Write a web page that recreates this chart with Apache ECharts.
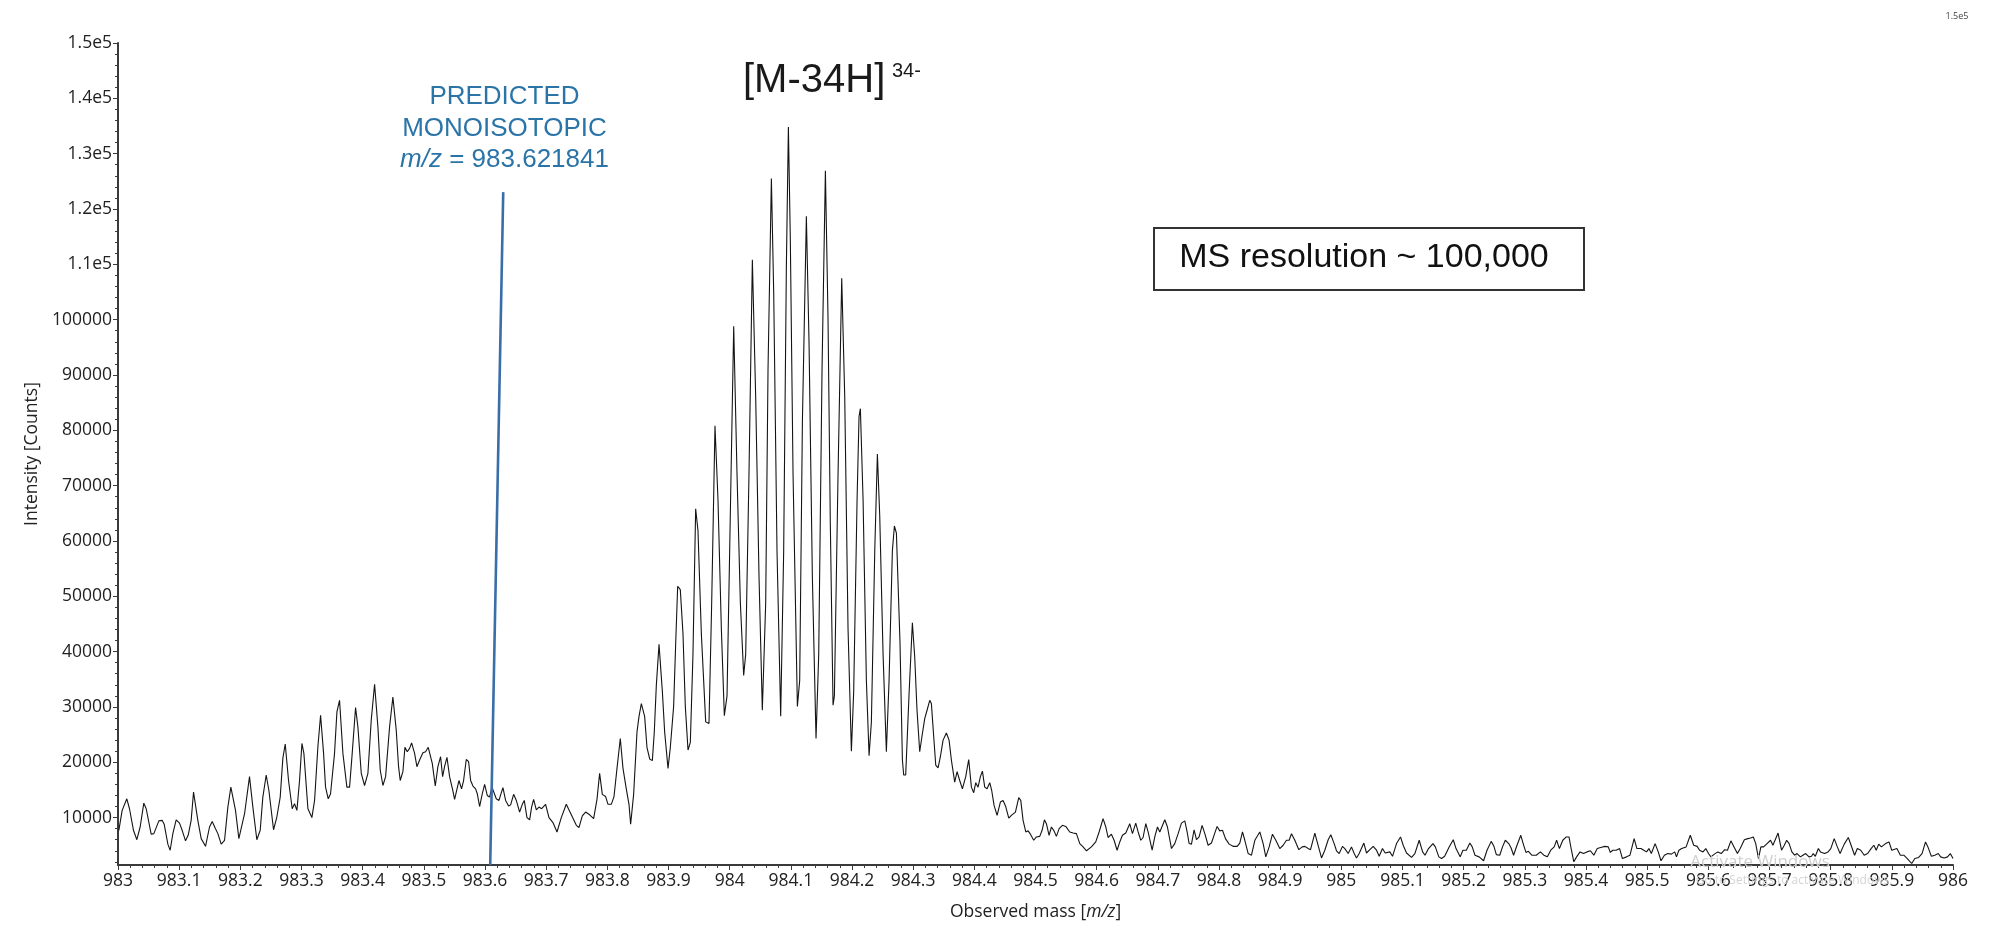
<!DOCTYPE html>
<html>
<head>
<meta charset="utf-8">
<title>[M-34H] 34- isotope envelope</title>
<script src="https://cdn.jsdelivr.net/npm/echarts@6/dist/echarts.min.js"></script>
<style>
  html, body { margin: 0; padding: 0; background: #fff; }
  #chart { width: 2000px; height: 942px; }
</style>
</head>
<body>
<div id="chart"></div>
<script>
// [m/z, intensity in counts] from left to right
const spectrumLow = [
  [983.0014,7700],[983.0068,11300],[983.0144,13400],[983.0188,11600],[983.0253,7700],[983.0308,6000],
  [983.0362,8300],[983.0422,12600],[983.0461,11600],[983.0542,7000],[983.0586,7100],[983.0668,9400],
  [983.0722,9500],[983.0755,8800],[983.0815,5200],[983.0853,4100],[983.0897,7100],[983.0951,9600],
  [983.1006,9000],[983.1049,7700],[983.1104,5800],[983.1147,6800],[983.1196,9500],[983.1235,14600],
  [983.1267,14800],[983.1305,9500],[983.1360,6200],[983.1431,4800],[983.1496,8300],[983.1540,9300],
  [983.1594,8000],[983.1633,7100],[983.1687,5200],[983.1742,5900],[983.1796,11900],[983.1845,15500],
  [983.1921,11300],[983.1976,6200],[983.2003,6200],[983.2069,10700],[983.2150,17400],[983.2205,11900],
  [983.2270,6000],[983.2325,7700],[983.2368,13700],[983.2423,17700],[983.2467,14900],[983.2543,7800],
  [983.2597,10100],[983.2652,13700],[983.2695,20700],[983.2734,23300],[983.2788,16700],[983.2848,11600],
  [983.2886,12500],[983.2925,11300],[983.2968,16700],[983.3007,23400],[983.3039,21600],[983.3105,11600],
  [983.3170,10000],[983.3214,13100],[983.3268,22800],[983.3312,28500],[983.3361,21600],[983.3393,15500],
  [983.3437,13400],[983.3475,14300],[983.3502,14300],[983.3540,21600],[983.3579,29100],[983.3622,31200],
  [983.3677,21600],[983.3742,15500],[983.3786,15500],[983.3829,21600],[983.3884,29900],[983.3922,26400],
  [983.3977,18000],[983.4031,15800],[983.4086,18000],[983.4140,27600],[983.4195,34100],[983.4249,26400],
  [983.4287,18600],[983.4331,15800],[983.4375,17400],[983.4440,26400],[983.4494,31800],[983.4549,25800],
  [983.4587,19200],[983.4614,16700],[983.4658,18300],[983.4691,22700],[983.4729,21900],[983.4767,22500],
  [983.4800,23500],[983.4849,21600],[983.4887,19200],[983.4931,20400],[983.4985,21700],[983.5029,21900],
  [983.5072,22700],[983.5138,19800],[983.5187,15700],[983.5230,19200],[983.5274,21000],[983.5307,17400],
  [983.5339,19200],[983.5378,20900],[983.5421,17400],[983.5476,14800],[983.5503,13300],[983.5541,15100],
  [983.5574,16700],[983.5617,15200],[983.5650,16700],[983.5694,20500],[983.5732,20100],[983.5765,16700],
  [983.5803,15700],[983.5846,15200],[983.5874,14300],[983.5912,12000],[983.5955,14300],[983.5994,16000],
  [983.6037,14000],[983.6075,13700],[983.6114,15500],[983.6141,15700],[983.6184,13400],[983.6228,13100],
  [983.6293,15400],[983.6337,13100],[983.6386,12100],[983.6419,12300],[983.6468,14200],[983.6512,13100],
  [983.6566,11000]
];

const spectrumCluster = [
  [983.6610,12400],[983.6642,13100],[983.6686,10000],[983.6730,9600],[983.6762,11900],[983.6795,13300],
  [983.6839,11400],[983.6882,11900],[983.6926,11600],[983.6991,12400],[983.7046,10000],[983.7111,9100],
  [983.7177,7400],[983.7247,10000],[983.7329,12400],[983.7411,10500],[983.7493,8600],[983.7536,8200],
  [983.7591,10300],[983.7645,11000],[983.7711,10500],[983.7776,9800],[983.7831,13300],[983.7874,18000],
  [983.7918,14200],[983.7972,13800],[983.8011,12400],[983.8065,12400],[983.8109,13800],[983.8158,18900],
  [983.8212,24300],[983.8256,18900],[983.8310,15200],[983.8354,12400],[983.8381,8800],[983.8430,14200],
  [983.8485,25500],[983.8518,28300],[983.8556,30600],[983.8610,28300],[983.8648,22700],[983.8692,20600],
  [983.8736,20300],[983.8768,25500],[983.8801,33900],[983.8845,41300],[983.8899,32900],[983.8937,25500],
  [983.8992,18900],[983.9030,22700],[983.9084,30100],[983.9117,41300],[983.9150,51800],[983.9193,51200],
  [983.9237,43200],[983.9275,30100],[983.9319,22200],[983.9357,23600],[983.9400,39500],[983.9444,65800],
  [983.9482,61900],[983.9537,43200],[983.9608,27300],[983.9662,27000],[983.9706,48800],[983.9760,80800],
  [983.9809,67500],[983.9864,44200],[983.9913,28400],[983.9957,32000],[984.0000,58200],[984.0066,98800],
  [984.0120,72200],[984.0175,48800],[984.0229,35700],[984.0262,39500],[984.0316,72200],[984.0371,110800],
  [984.0425,86200],[984.0480,53500],[984.0534,29400],[984.0589,48800],[984.0627,90900],[984.0682,125500],
  [984.0720,104900],[984.0774,58200],[984.0834,28300],[984.0883,58200],[984.0927,109600],[984.0960,134800],
  [984.0992,114300],[984.1036,72200],[984.1107,30100],[984.1145,34800],[984.1189,81500],[984.1254,118700],
  [984.1298,95600],[984.1352,53500],[984.1412,24300],[984.1456,39500],[984.1510,90900],[984.1565,126900],
  [984.1608,100200],[984.1646,62800],[984.1690,30300],[984.1712,32000],[984.1772,72200],[984.1832,107500],
  [984.1881,86200],[984.1935,44200],[984.1990,22000],[984.2028,32900],[984.2083,67500],[984.2115,82500],
  [984.2137,83900],[984.2181,67500],[984.2235,34800],[984.2279,21200],[984.2317,27300],[984.2372,58200],
  [984.2415,75700],[984.2453,64700],[984.2508,39500],[984.2562,21900],[984.2606,34800],[984.2660,58200],
  [984.2693,62700],[984.2726,61400]
];

const spectrumTail = [
  [984.2785,41500],[984.2824,20400],[984.2845,17700],[984.2878,17700],[984.2933,32400],[984.2987,45200],
  [984.3025,39100],[984.3063,29400],[984.3107,21900],[984.3151,25200],[984.3189,27900],[984.3227,29400],
  [984.3271,31200],[984.3298,30600],[984.3336,24600],[984.3369,19500],[984.3407,19000],[984.3445,21000],
  [984.3489,24000],[984.3543,25300],[984.3587,24000],[984.3625,20400],[984.3679,16400],[984.3718,18300],
  [984.3761,16700],[984.3805,15200],[984.3859,17400],[984.3908,20500],[984.3952,15500],[984.3990,14500],
  [984.4023,16300],[984.4061,15500],[984.4099,17400],[984.4132,18400],[984.4170,15500],[984.4208,15200],
  [984.4252,16300],[984.4284,14900],[984.4323,12200],[984.4372,10400],[984.4426,12800],[984.4470,13100],
  [984.4513,12000],[984.4563,9900],[984.4606,10400],[984.4672,11000],[984.4726,13600],[984.4759,13100],
  [984.4797,9500],[984.4841,7400],[984.4879,7600],[984.4917,7000],[984.4971,5900],[984.5015,6500],
  [984.5069,6600],[984.5108,7700],[984.5146,9600],[984.5178,8900],[984.5222,6800],[984.5260,8300],
  [984.5298,7700],[984.5342,6600],[984.5386,8000],[984.5440,8600],[984.5495,8400],[984.5560,7400],
  [984.5615,7200],[984.5669,7100],[984.5724,5300],[984.5778,4700],[984.5833,4000],[984.5914,4700],
  [984.5985,5600],[984.6040,7400],[984.6105,9800],[984.6149,8300],[984.6187,6400],[984.6241,7000],
  [984.6285,5900],[984.6334,4100],[984.6378,5600],[984.6421,6800],[984.6476,7200],[984.6541,8900],
  [984.6585,7100],[984.6639,9000],[984.6678,7400],[984.6721,5900],[984.6759,6400],[984.6803,8900],
  [984.6841,7400],[984.6907,4100],[984.6950,6500],[984.6994,8300],[984.7032,7400],[984.7114,9600],
  [984.7157,8300],[984.7223,4400],[984.7277,5300],[984.7332,7100],[984.7386,9000],[984.7441,9400],
  [984.7479,7400],[984.7512,5300],[984.7550,5200],[984.7593,7800],[984.7632,6000],[984.7675,6500],
  [984.7724,8600],[984.7768,7100],[984.7822,5000],[984.7877,5400],[984.7931,7200],[984.7969,8400],
  [984.8013,7600],[984.8057,7700],[984.8106,6200],[984.8166,5200],[984.8231,4800],[984.8297,4800],
  [984.8340,5400],[984.8384,7400],[984.8422,5900],[984.8477,3500],[984.8531,3200],[984.8586,5900],
  [984.8667,7400],[984.8722,5300],[984.8765,2900],[984.8820,4700],[984.8874,7000],[984.8929,5900],
  [984.8994,4400],[984.9049,5000],[984.9103,5900],[984.9147,5900],[984.9185,7100],[984.9240,5900],
  [984.9305,4200],[984.9360,4700],[984.9403,4800],[984.9458,4400],[984.9496,4200],[984.9567,7200],
  [984.9605,5600],[984.9676,2700],[984.9730,4100],[984.9785,6000],[984.9828,6900],[984.9883,5300],
  [984.9921,4000],[984.9965,3500],[985.0019,4800],[985.0057,4400],[985.0112,3500],[985.0166,4700],
  [985.0210,3500],[985.0248,2700],[985.0292,3500],[985.0368,5400],[985.0412,3600],[985.0466,4200],
  [985.0521,4800],[985.0575,4100],[985.0619,3000],[985.0673,4400],[985.0717,3600],[985.0793,3800],
  [985.0837,3000],[985.0902,5300],[985.0968,6500],[985.1011,5000],[985.1066,3600],[985.1148,2800],
  [985.1202,3500],[985.1273,5900]
];

const spectrumNoise = [
  [985.1329,3800],[985.1368,3200],[985.1425,4400],[985.1498,5300],[985.1537,4700],[985.1594,2900],
  [985.1639,2600],[985.1689,3000],[985.1763,4700],[985.1830,6000],[985.1875,4400],[985.1943,2900],
  [985.1988,4100],[985.2044,4100],[985.2101,5400],[985.2140,4700],[985.2185,3200],[985.2253,2900],
  [985.2326,2200],[985.2382,4100],[985.2450,5700],[985.2495,4800],[985.2534,3300],[985.2590,3200],
  [985.2635,4700],[985.2681,5900],[985.2737,5300],[985.2776,4500],[985.2816,3200],[985.2872,5000],
  [985.2934,6800],[985.2973,5300],[985.3018,3700],[985.3058,3900],[985.3114,3200],[985.3187,3200],
  [985.3255,3800],[985.3311,3200],[985.3368,2900],[985.3424,4100],[985.3480,4700],[985.3520,5900],
  [985.3565,4400],[985.3621,5900],[985.3677,6500],[985.3722,6500],[985.3762,4100],[985.3801,2000],
  [985.3846,2900],[985.3903,3800],[985.3959,3500],[985.4015,3800],[985.4071,4000],[985.4128,3200],
  [985.4184,4400],[985.4240,4600],[985.4308,4800],[985.4364,4700],[985.4398,3700],[985.4438,4100],
  [985.4494,4100],[985.4550,4400],[985.4595,2600],[985.4663,2900],[985.4719,3200],[985.4787,6200],
  [985.4832,4400],[985.4899,4400],[985.4944,4100],[985.4989,3800],[985.5029,4400],[985.5068,3500],
  [985.5130,5300],[985.5181,3800],[985.5226,2200],[985.5282,3200],[985.5338,3500],[985.5395,3400],
  [985.5451,3800],[985.5479,2900],[985.5519,4100],[985.5564,4400],[985.5637,4700],[985.5705,6800],
  [985.5761,5000],[985.5817,4800],[985.5857,4100],[985.5913,3800],[985.5958,4400],[985.6003,3500],
  [985.6042,2900],[985.6099,3400],[985.6155,3800],[985.6211,3500],[985.6268,4200],[985.6313,4100],
  [985.6369,5800],[985.6420,4700],[985.6476,3500],[985.6521,4400],[985.6589,6000],[985.6645,6200],
  [985.6690,6300],[985.6735,6500],[985.6775,5300],[985.6820,2600],[985.6859,4700],[985.6904,4700],
  [985.6960,5300],[985.7017,5900],[985.7056,5000],[985.7140,7200],[985.7197,4100],[985.7242,5000],
  [985.7281,5900],[985.7321,5300],[985.7366,3800],[985.7411,3200],[985.7450,3500],[985.7506,2900],
  [985.7546,3200],[985.7591,3500],[985.7647,2900],[985.7687,3000],[985.7715,3500],[985.7749,3000],
  [985.7799,4400],[985.7833,3800],[985.7901,3500],[985.7957,3800],[985.8002,4400],[985.8058,6200],
  [985.8109,4700],[985.8154,3500],[985.8222,5200],[985.8289,6400],[985.8334,5000],[985.8391,3200],
  [985.8436,4400],[985.8492,4100],[985.8548,3200],[985.8605,3500],[985.8661,4400],[985.8706,5000],
  [985.8745,4100],[985.8785,5200],[985.8830,4700],[985.8897,5300],[985.8954,5600],[985.8999,4100],
  [985.9083,4400],[985.9140,3200],[985.9196,3200],[985.9252,2600],[985.9325,1700],[985.9376,2600],
  [985.9438,2800],[985.9494,3500],[985.9551,5600],[985.9590,4700],[985.9646,3000],[985.9703,3200],
  [985.9759,3500],[985.9798,2900],[985.9855,2700],[985.9911,2900],[985.9956,3500],[985.9984,3200],
  [986.0000,2600]
];

// predicted monoisotopic marker line (hand drawn, slightly slanted)
const predictedLine = [[983.6085, 1430], [983.6298, 123050]];

// axis ranges and tick labels
const mzRange = [983, 986];
const intensityRange = [1430, 150000];
const intensityTicks = [10000, 20000, 30000, 40000, 50000, 60000, 70000, 80000,
  90000, 100000, 110000, 120000, 130000, 140000, 150000];

// minor ticks every 2000 between the labelled ones
const intensityMinorTicks = [];
for (let v = 2000; v < 150000; v += 2000) {
  if (v % 10000 !== 0) intensityMinorTicks.push(v);
}

const axisColor = '#3a3a3a';
const textColor = '#222';
const blue = '#2b74a8';
const uiFont = 'Open Sans';
const printFont = 'Liberation Sans';

function intensityLabel(v) {
  return v > 100000 ? (v / 1e5).toFixed(1) + 'e5' : String(v);
}

const chart = echarts.init(document.getElementById('chart'), null, { renderer: 'canvas' });

chart.setOption({
  animation: false,
  backgroundColor: '#fff',
  grid: { left: 118, right: 47, top: 43, bottom: 77, containLabel: false, outerBoundsMode: 'none' },
  xAxis: {
    type: 'value',
    min: mzRange[0],
    max: mzRange[1],
    interval: 0.1,
    name: '{n|Observed mass [}{i|m/z}{n|]}',
    nameLocation: 'middle',
    nameGap: 38,
    nameTextStyle: {
      rich: {
        n: { fontFamily: uiFont, fontSize: 17.5, color: textColor },
        i: { fontFamily: uiFont, fontSize: 17.5, color: textColor, fontStyle: 'italic' }
      }
    },
    axisLine: { show: true, lineStyle: { color: axisColor, width: 2 } },
    axisTick: { show: true, length: 5, lineStyle: { color: axisColor, width: 1 } },
    minorTick: { show: true, splitNumber: 5, length: 3, lineStyle: { color: axisColor, width: 1 } },
    splitLine: { show: false },
    minorSplitLine: { show: false },
    axisLabel: {
      margin: 7,
      fontFamily: uiFont,
      fontSize: 17.5,
      color: textColor,
      showMinLabel: true,
      showMaxLabel: true,
      formatter: v => String(+v.toFixed(1))
    }
  },
  yAxis: [
    {
      type: 'value',
      min: intensityRange[0],
      max: intensityRange[1],
      name: 'Intensity [Counts]',
      nameLocation: 'middle',
      nameGap: 64,
      nameTextStyle: { fontFamily: uiFont, fontSize: 17.5, color: textColor },
      axisLine: { show: true, lineStyle: { color: axisColor, width: 2 } },
      axisTick: { show: true, length: 5, customValues: intensityTicks, lineStyle: { color: axisColor, width: 1 } },
      splitLine: { show: false },
      axisLabel: {
        margin: 6,
        customValues: intensityTicks,
        fontFamily: uiFont,
        fontSize: 17.5,
        color: textColor,
        formatter: intensityLabel
      }
    },
    {
      type: 'value',
      min: intensityRange[0],
      max: intensityRange[1],
      position: 'left',
      axisLine: { show: false },
      axisTick: { show: true, length: 3, customValues: intensityMinorTicks, lineStyle: { color: axisColor, width: 1 } },
      axisLabel: { show: false },
      splitLine: { show: false }
    }
  ],
  series: [
    {
      name: 'spectrum',
      type: 'line',
      data: spectrumLow.concat(spectrumCluster, spectrumTail, spectrumNoise),
      showSymbol: false,
      symbol: 'none',
      lineStyle: { color: '#141414', width: 1.1 },
      z: 2
    },
    {
      name: 'predicted monoisotopic',
      type: 'line',
      data: predictedLine,
      showSymbol: false,
      symbol: 'none',
      lineStyle: { color: '#3a6ea8', width: 2.6 },
      z: 3
    }
  ],
  graphic: [
    { type: 'text', x: 504.5, y: 97, style: { text: 'PREDICTED', fill: blue, fontFamily: printFont, fontSize: 26, align: 'center', verticalAlign: 'middle' } },
    { type: 'text', x: 504.5, y: 128.5, style: { text: 'MONOISOTOPIC', fill: blue, fontFamily: printFont, fontSize: 26, align: 'center', verticalAlign: 'middle' } },
    {
      type: 'text', x: 504.5, y: 160,
      style: {
        text: '{i|m/z} = 983.621841', fill: blue, fontFamily: printFont, fontSize: 26,
        align: 'center', verticalAlign: 'middle',
        rich: { i: { fontStyle: 'italic', fontFamily: printFont, fontSize: 26, fill: blue } }
      }
    },
    { type: 'text', x: 743, y: 81, style: { text: '[M-34H]', fill: '#1a1a1a', fontFamily: printFont, fontSize: 40, align: 'left', verticalAlign: 'middle' } },
    { type: 'text', x: 892, y: 71, style: { text: '34-', fill: '#1a1a1a', fontFamily: printFont, fontSize: 20, align: 'left', verticalAlign: 'middle' } },
    { type: 'rect', shape: { x: 1154, y: 228, width: 430, height: 62 }, style: { fill: '#fff', stroke: '#333', lineWidth: 2 } },
    { type: 'text', x: 1364, y: 258, style: { text: 'MS resolution ~ 100,000', fill: '#111', fontFamily: printFont, fontSize: 34, align: 'center', verticalAlign: 'middle' } },
    { type: 'text', x: 1957, y: 16, style: { text: '1.5e5', fill: '#444', fontFamily: uiFont, fontSize: 9, align: 'center', verticalAlign: 'middle' } },
    { type: 'text', x: 1760, y: 862, z: 10, style: { text: 'Activate Windows', fill: '#cfcfcf', fontFamily: uiFont, fontSize: 17, align: 'center', verticalAlign: 'middle' } },
    { type: 'text', x: 1794, y: 881, z: 10, style: { text: 'Go to Settings to activate Windows.', fill: '#d4d4d4', fontFamily: uiFont, fontSize: 12, align: 'center', verticalAlign: 'middle' } }
  ]
});
</script>
</body>
</html>
